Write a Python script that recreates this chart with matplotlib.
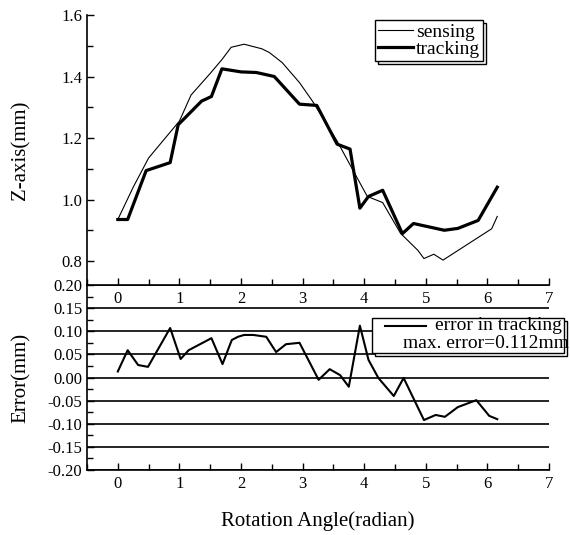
import matplotlib
matplotlib.use('Agg')
import matplotlib.pyplot as plt
from matplotlib.lines import Line2D
from matplotlib.patches import Rectangle
from matplotlib.ticker import MultipleLocator, FormatStrFormatter

plt.rcParams['font.family'] = ['Liberation Serif', 'DejaVu Serif']

# sensing curve (thin) and tracking curve (thick), Z-axis in mm
sens_x = [0, 0.25, 0.5, 1.0, 1.19, 1.5, 1.69, 1.84, 2.05, 2.34, 2.46, 2.67, 2.95,
          3.16, 3.56, 4.05, 4.30, 4.59, 4.87, 4.97, 5.13, 5.28, 6.07, 6.16]
sens_y = [0.935, 1.04, 1.135, 1.255, 1.34, 1.41, 1.455, 1.495, 1.505, 1.49, 1.478,
          1.445, 1.38, 1.32, 1.19, 1.01, 0.99, 0.89, 0.835, 0.808, 0.822, 0.803,
          0.905, 0.945]

trk_x = [0, 0.16, 0.46, 0.85, 0.98, 1.36, 1.52, 1.69, 2.0, 2.25, 2.54, 2.95, 3.23,
         3.56, 3.77, 3.93, 4.07, 4.30, 4.62, 4.80, 5.30, 5.52, 5.85, 6.16]
trk_y = [0.935, 0.935, 1.094, 1.12, 1.243, 1.32, 1.335, 1.425, 1.415, 1.413, 1.40,
         1.31, 1.306, 1.18, 1.164, 0.972, 1.01, 1.03, 0.889, 0.922, 0.90, 0.906,
         0.932, 1.04]

# error in tracking (mm)
err_x = [0, 0.16, 0.33, 0.49, 0.85, 1.02, 1.15, 1.52, 1.70, 1.85, 1.95, 2.05, 2.2,
         2.41, 2.57, 2.73, 2.95, 3.26, 3.44, 3.61, 3.75, 3.93, 4.07, 4.23, 4.48,
         4.64, 4.97, 5.16, 5.31, 5.52, 5.82, 6.03, 6.16]
err_y = [0.013, 0.059, 0.027, 0.023, 0.107, 0.040, 0.059, 0.085, 0.029, 0.081,
         0.088, 0.092, 0.092, 0.088, 0.055, 0.072, 0.075, -0.005, 0.018, 0.005,
         -0.020, 0.112, 0.038, -0.001, -0.040, -0.001, -0.092, -0.081, -0.085,
         -0.064, -0.049, -0.083, -0.090]

W, H = 570, 535
fig = plt.figure(figsize=(W / 100, H / 100), dpi=100)

L, R = 87, 549
ax2 = fig.add_axes([L / W, 1 - 470 / H, (R - L) / W, (470 - 285) / H])
ax1 = fig.add_axes([L / W, 1 - 285 / H, (R - L) / W, (285 - 15) / H])
for ax in (ax1, ax2):
    ax.set_facecolor('none')
    ax.spines['top'].set_visible(False)
    ax.spines['right'].set_visible(False)
    ax.spines['left'].set_linewidth(1.2)
    ax.spines['bottom'].set_linewidth(1.2)
    ax.set_xlim(-0.5, 7)
    ax.xaxis.set_major_locator(MultipleLocator(1))
    ax.xaxis.set_minor_locator(MultipleLocator(0.5))
    ax.tick_params(which='both', direction='in', labelsize=12)
    ax.tick_params(which='major', length=5, width=1)
    ax.tick_params(which='minor', length=4, width=1)
    ax.tick_params(axis='x', which='major', pad=4)

# top panel
ax1.plot(sens_x, sens_y, color='black', lw=0.8, label='sensing')
ax1.plot(trk_x, trk_y, color='black', lw=2.3, label='tracking')
ax1.set_ylim(0.722, 1.6)
ax1.yaxis.set_major_locator(MultipleLocator(0.2))
ax1.yaxis.set_minor_locator(MultipleLocator(0.1))
ax1.yaxis.set_major_formatter(FormatStrFormatter('%.1f'))
ax1.set_ylabel('Z-axis(mm)', fontsize=15, va='center')
ax1.yaxis.set_label_coords((21 - L) / (R - L), 0.5)
leg = ax1.legend(loc='upper right', bbox_to_anchor=(483 / W, 1 - 20 / H),
                 bbox_transform=fig.transFigure, fontsize=14, handlelength=1.8,
                 handletextpad=0.15, labelspacing=0.0, borderpad=0.15,
                 borderaxespad=0, fancybox=False, edgecolor='black',
                 framealpha=1,
                 shadow={'facecolor': 'white', 'edgecolor': 'black',
                         'alpha': 1, 'linewidth': 1})
leg.get_frame().set_linewidth(1)

# bottom panel
ax2.plot(err_x, err_y, color='black', lw=1.5)
ax2.set_ylim(-0.2, 0.2)
ax2.yaxis.set_major_locator(MultipleLocator(0.05))
ax2.yaxis.set_minor_locator(MultipleLocator(0.025))
ax2.yaxis.set_major_formatter(FormatStrFormatter('%.2f'))
ax2.yaxis.grid(True, color='black', lw=1.2)
ax2.set_ylabel('Error(mm)', fontsize=15, va='center')
ax2.yaxis.set_label_coords((21 - L) / (R - L), 0.5)
ax2.set_xlabel('Rotation Angle(radian)', fontsize=15, labelpad=14)

# legend box of the error panel, drawn by hand (two lines, right aligned)
bx0, bx1, by0, by1 = 372, 564, 318, 353
for dx, z in ((3, 5), (0, 6)):
    fig.add_artist(Rectangle(((bx0 + dx) / W, 1 - (by1 + dx) / H),
                             (bx1 - bx0) / W, (by1 - by0) / H,
                             transform=fig.transFigure, fc='white', ec='black',
                             lw=1, zorder=z))
fig.text(562 / W, 1 - 326 / H, 'error in tracking', ha='right', va='center',
         fontsize=14, zorder=7)
fig.text(569 / W, 1 - 344 / H, 'max. error=0.112mm', ha='right', va='center',
         fontsize=14, zorder=7)
fig.add_artist(Line2D([385 / W, 426 / W], [1 - 326 / H, 1 - 326 / H],
                      transform=fig.transFigure, color='black', lw=1.5, zorder=7))

plt.savefig('out.png', dpi=100)
